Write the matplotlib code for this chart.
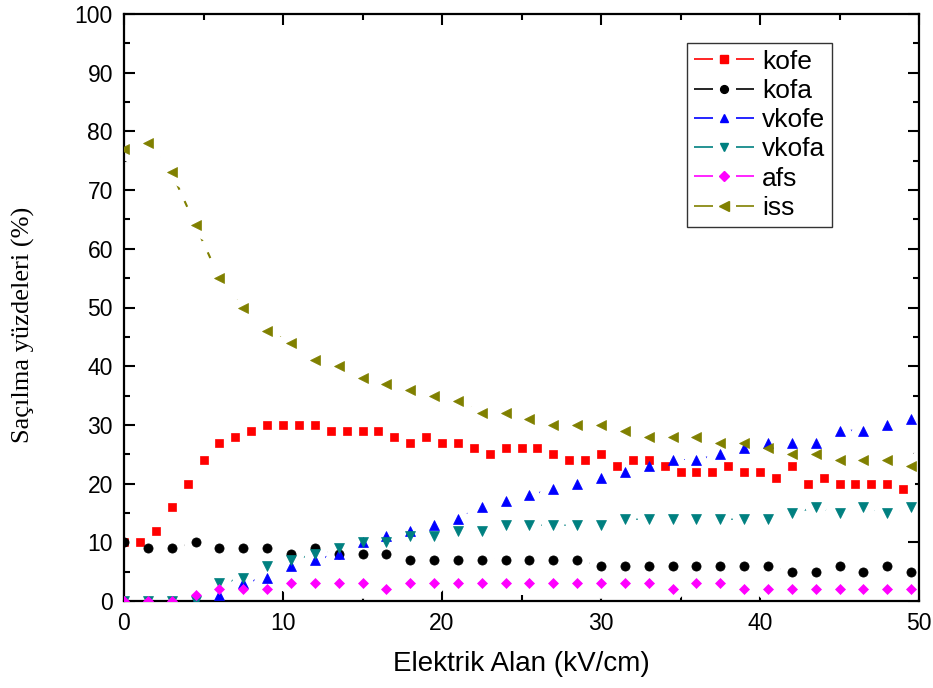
import matplotlib
matplotlib.use('Agg')
import matplotlib.pyplot as plt
from matplotlib.lines import Line2D
from matplotlib.ticker import MultipleLocator

# ---- data ----
x_kofe = [0, 1, 2, 3, 4, 5, 6, 7, 8, 9, 10, 11, 12, 13, 14, 15, 16, 17, 18, 19,
          20, 21, 22, 23, 24, 25, 26, 27, 28, 29, 30, 31, 32, 33, 34, 35, 36, 37,
          38, 39, 40, 41, 42, 43, 44, 45, 46, 47, 48, 49]
kofe = [10, 10, 12, 16, 20, 24, 27, 28, 29, 30, 30, 30, 30, 29, 29, 29, 29, 28, 27, 28,
        27, 27, 26, 25, 26, 26, 26, 25, 24, 24, 25, 23, 24, 24, 23, 22, 22, 22,
        23, 22, 22, 21, 23, 20, 21, 20, 20, 20, 20, 19]

x_other = [0, 1.5, 3, 4.5, 6, 7.5, 9, 10.5, 12, 13.5, 15, 16.5, 18, 19.5, 21, 22.5,
           24, 25.5, 27, 28.5, 30, 31.5, 33, 34.5, 36, 37.5, 39, 40.5, 42, 43.5,
           45, 46.5, 48, 49.5]
kofa = [10, 9, 9, 10, 9, 9, 9, 8, 9, 8, 8, 8, 7, 7, 7, 7,
        7, 7, 7, 7, 6, 6, 6, 6, 6, 6, 6, 6, 5, 5, 6, 5, 6, 5]
vkofe = [0, 0, 0, 0, 1, 3, 4, 6, 7, 8, 10, 11, 12, 13, 14, 16,
         17, 18, 19, 20, 21, 22, 23, 24, 24, 25, 26, 27, 27, 27, 29, 29, 30, 31]
vkofa = [0, 0, 0, 0, 3, 4, 6, 7, 8, 9, 10, 10, 11, 11, 12, 12,
         13, 13, 13, 13, 13, 14, 14, 14, 14, 14, 14, 14, 15, 16, 15, 16, 15, 16]
afs = [0, 0, 0, 1, 2, 2, 2, 3, 3, 3, 3, 2, 3, 3, 3, 3,
       3, 3, 3, 3, 3, 3, 3, 2, 3, 3, 2, 2, 2, 2, 2, 2, 2, 2]
iss = [77, 78, 73, 64, 55, 50, 46, 44, 41, 40, 38, 37, 36, 35, 34, 32,
       32, 31, 30, 30, 30, 29, 28, 28, 28, 27, 27, 26, 25, 25, 24, 24, 24, 23]

labels = ['kofe', 'kofa', 'vkofe', 'vkofa', 'afs', 'iss']
xs = [x_kofe, x_other, x_other, x_other, x_other, x_other]
ys = [kofe, kofa, vkofe, vkofa, afs, iss]
colors = ['#FF0000', '#000000', '#0000FF', '#008080', '#FF00FF', '#808000']
markers = ['s', 'o', '^', 'v', 'D', '<']
msizes = [6.2, 6.6, 7.6, 7.6, 5.4, 7.8]

plt.rcParams['font.family'] = ['Liberation Sans', 'DejaVu Sans']

fig = plt.figure(figsize=(9.33, 6.88), dpi=100)
ax = fig.add_axes([124 / 933, 1 - 601 / 688, (919 - 124) / 933, (601 - 14) / 688])

handles = []
for i, (x, y, c, m, ms, lab) in enumerate(zip(xs, ys, colors, markers, msizes, labels)):
    ax.plot(x, y, color=c, lw=1.5, linestyle=(0, (3, 6)), zorder=2.0)
    ax.plot(x, y, linestyle='none', marker=m, ms=ms, mfc='white', mec='white',
            mew=11.5, zorder=2.1)
    ax.plot(x, y, linestyle='none', marker=m, ms=ms, mfc=c, mec=c, mew=0.5,
            zorder=3 + i * 0.01)
    handles.append(Line2D([], [], color=c, lw=1.2, marker=m, ms=ms * 0.85,
                          mfc=c, mec=c, linestyle=(0, (11.4, 13.8))))

ax.set_xlim(0, 50)
ax.set_ylim(0, 100)
ax.xaxis.set_major_locator(MultipleLocator(10))
ax.xaxis.set_minor_locator(MultipleLocator(5))
ax.yaxis.set_major_locator(MultipleLocator(10))
ax.yaxis.set_minor_locator(MultipleLocator(5))
ax.tick_params(which='both', direction='in', top=True, right=True, width=1.5,
               labelsize=16.5, pad=8)
ax.tick_params(which='major', length=8)
ax.tick_params(which='minor', length=4.5)
for s in ax.spines.values():
    s.set_linewidth(1.6)

ax.set_xlabel('Elektrik Alan (kV/cm)', fontsize=20)
ax.xaxis.set_label_coords(0.5, -0.086)
ax.set_ylabel('Saçılma yüzdeleri (%)', fontsize=19,
              family=['Liberation Serif', 'DejaVu Serif'])
ax.yaxis.set_label_coords(-0.112, 0.47)

leg = ax.legend(handles, labels, loc='upper left',
                bbox_to_anchor=(687 / 933, 1 - 43 / 688), bbox_transform=fig.transFigure,
                borderaxespad=0, fontsize=19, handlelength=2.3, handletextpad=0.3,
                labelspacing=0.2, borderpad=0.25, fancybox=False, frameon=True,
                edgecolor='black')
leg.get_frame().set_linewidth(1.0)
leg.set_zorder(10)

fig.savefig('out.png', dpi=100)
